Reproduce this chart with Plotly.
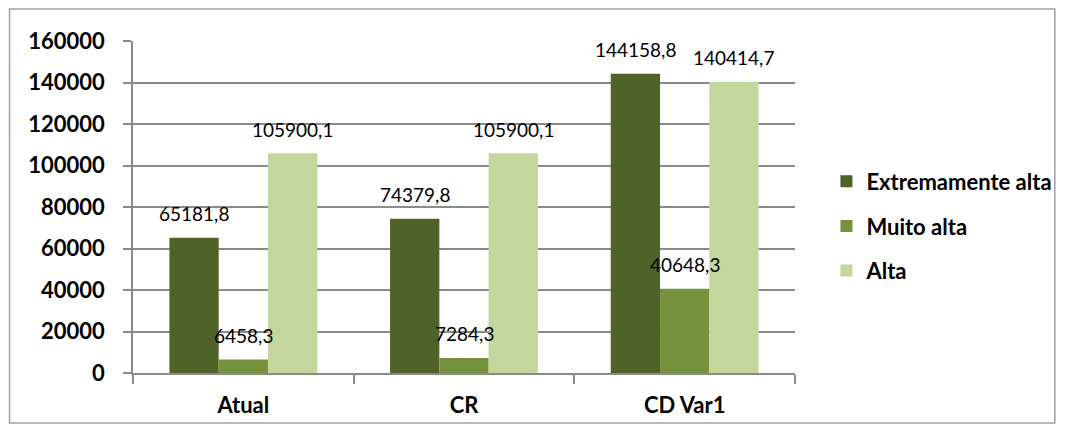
import plotly.graph_objects as go

categories = ["Atual", "CR", "CD Var1"]
series_names = ["Extremamente alta", "Muito alta", "Alta"]
extremamente_alta = [65181.8, 74379.8, 144158.8]
muito_alta = [6458.3, 7284.3, 40648.3]
alta = [105900.1, 105900.1, 140414.7]
y_ticks = [0, 20000, 40000, 60000, 80000, 100000, 120000, 140000, 160000]

colors = ["#4f6228", "#76923c", "#c3d69b"]
series = [extremamente_alta, muito_alta, alta]

FONT = "Lato"

def fmt(v):
    return f"{v:.1f}".replace(".", ",")

fig = go.Figure()
for i, (name, vals) in enumerate(zip(series_names, series)):
    fig.add_trace(go.Bar(
        x=categories, y=vals, name=name,
        marker=dict(color=colors[i], line=dict(width=0)),
        legendgroup=f"g{i}",
    ))

# data labels above bars
bar_w = (1 - 0.33) / 3
annotations = []
for i, vals in enumerate(series):
    for j, v in enumerate(vals):
        annotations.append(dict(
            x=j + (i - 1) * bar_w, y=v, xref="x", yref="y",
            text=fmt(v), showarrow=False, yanchor="middle", yshift=24,
            font=dict(family=FONT, size=19, color="#000000"),
        ))

L, R, T, B = 133, 271, 41, 59
W, H = 1069, 432
pw, ph = W - L - R, H - T - B

fig.update_layout(
    width=W, height=H,
    margin=dict(l=L, r=R, t=T, b=B),
    paper_bgcolor="white", plot_bgcolor="white",
    barmode="group", bargap=0.33, bargroupgap=0,
    font=dict(family=FONT, color="#000000"),
    annotations=annotations,
    legend=dict(
        x=1.0475, y=0.64, xanchor="left", yanchor="top",
        font=dict(family=FONT, size=22, color="#000000", weight="bold"),
        tracegroupgap=13, itemwidth=30,
        bgcolor="rgba(0,0,0,0)",
    ),
    showlegend=True,
    xaxis=dict(
        type="category", showgrid=False,
        showline=True, linecolor="#8a8a8a", linewidth=1.5,
        ticks="outside", tickson="boundaries", ticklen=9, tickcolor="#8a8a8a",
        tickwidth=1.5,
        tickfont=dict(family=FONT, size=22, color="#000000", weight="bold"),
        ticklabelstandoff=12,
        range=[-0.5, 2.5],
    ),
    yaxis=dict(
        range=[0, 160000], tickvals=y_ticks,
        ticktext=[str(t) for t in y_ticks],
        showgrid=True, gridcolor="#8a8a8a", gridwidth=1.5,
        showline=True, linecolor="#8a8a8a", linewidth=1.5,
        ticks="outside", ticklen=8, tickcolor="#8a8a8a", tickwidth=1.5,
        tickfont=dict(family=FONT, size=22, color="#000000", weight="bold"),
        ticklabelstandoff=14,
        zeroline=False,
    ),
    shapes=[dict(
        type="rect", xref="paper", yref="paper",
        x0=(9 - L) / pw, x1=(1059 - L) / pw,
        y0=(H - B - 423) / ph, y1=(H - B - 9) / ph,
        line=dict(color="#a0a0a0", width=1.5), fillcolor="rgba(0,0,0,0)",
        layer="below",
    )],
)

fig.write_html("out.html")
